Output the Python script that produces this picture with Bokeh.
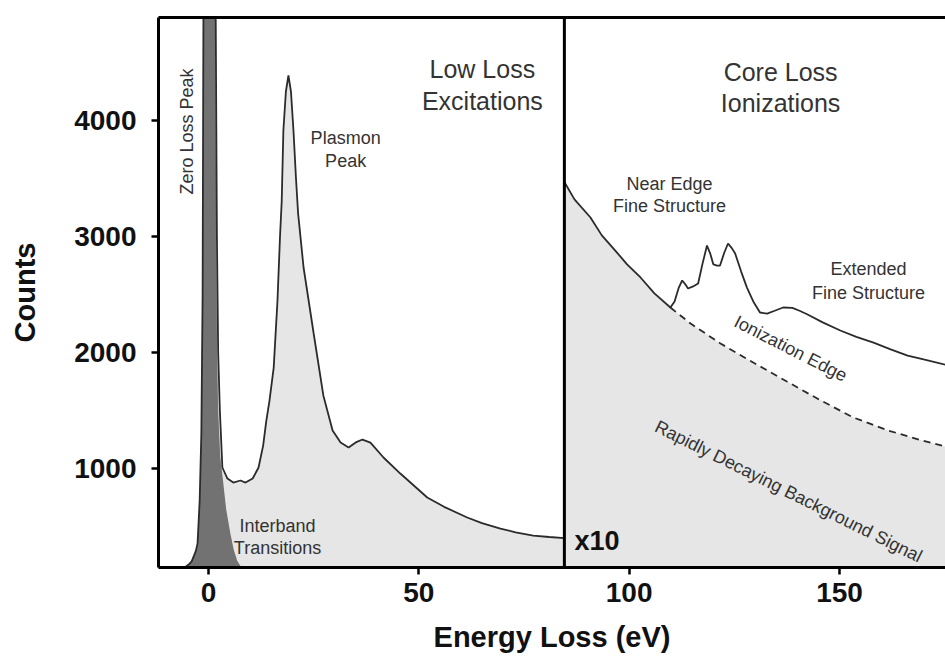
import math
from bokeh.plotting import figure
from bokeh.models import Range1d, Span, Label, LinearAxis, FixedTicker
from bokeh.embed import file_html
from bokeh.resources import INLINE

# Low-loss spectrum: total counts vs energy loss (eV)
low_energy = [-12, -6, -5.5, -4.5, -4, -3, -2.6, -2.1, -1.7, -1.4, -1.2, -1.0, 0,
              1.0, 1.7, 2.0, 2.3, 2.7, 3.3, 4.5, 5.9, 7.6, 8.8, 10.5, 11.9, 13.0,
              13.7, 14.5, 15.5, 16.4, 17.0, 17.4, 17.8, 18.4, 19.0, 19.6, 20.2,
              20.8, 21.3, 22.6, 25.0, 27.3, 29.5, 31.4, 33.3, 35.0, 36.6, 38.5,
              41.6, 45.6, 52.0, 56.0, 61.5, 65.0, 69.4, 73.0, 77.2, 81.0, 84.6]
low_counts = [147, 148, 152, 180, 200, 290, 355, 724, 1302, 2500, 5000, 8000, 12000,
              8000, 5000, 3000, 2000, 1500, 1009, 914, 879, 897, 879, 914, 1009, 1200,
              1400, 1586, 1870, 2448, 3000, 3300, 3914, 4250, 4388, 4250, 3914,
              3500, 3200, 2733, 2164, 1630, 1328, 1224, 1181, 1225, 1250, 1224,
              1095, 957, 750, 670, 578, 530, 483, 450, 422, 410, 400]

# Zero-loss peak component
zlp_energy = [-12, -6, -5.5, -4.5, -4, -3, -2.6, -2.1, -1.7, -1.4, -1.2, -1.0, 0,
              1.0, 1.6, 1.85, 2.05, 2.3, 2.8, 3.5, 4.2, 5.2, 6.0, 6.8, 7.6, 8.5]
zlp_counts = [147, 148, 152, 180, 200, 290, 355, 724, 1302, 2500, 5000, 8000, 12000,
              8000, 5000, 3000, 2000, 1500, 1100, 880, 650, 440, 300, 207, 160, 147]

# Core-loss region (x10): decaying background
bg_energy = [84.6, 87.0, 90.8, 93.5, 96.7, 99.5, 102.7, 106.0, 109.8, 114.6, 121.7,
             129.5, 137.5, 145.4, 153.3, 161.4, 169.3, 175.2]
bg_counts = [3470, 3320, 3164, 3010, 2879, 2760, 2647, 2510, 2388, 2250, 2078,
             1914, 1750, 1590, 1440, 1330, 1245, 1190]

# Core-loss region (x10): ionization edge signal above onset
edge_energy = [109.8, 110.8, 111.8, 112.6, 113.3, 114.0, 115.2, 116.4, 117.4, 118.5,
               119.3, 120.0, 120.9, 121.6, 122.6, 123.5, 124.4, 125.2, 126.6, 128.0,
               129.5, 131.1, 132.8, 134.6, 136.6, 138.8, 140.5, 142.3, 146.0, 150.2,
               154.0, 158.1, 162.0, 166.2, 170.0, 175.2]
edge_counts = [2388, 2440, 2560, 2621, 2590, 2552, 2570, 2595, 2760, 2922,
               2850, 2760, 2750, 2750, 2860, 2940, 2900, 2853, 2700, 2560,
               2440, 2345, 2336, 2360, 2388, 2385, 2360, 2330, 2260, 2190,
               2135, 2086, 2030, 1974, 1940, 1895]

x_ticks = [0, 50, 100, 150]
y_ticks = [1000, 2000, 3000, 4000]
divider = 84.6

FONT = "Liberation Sans"
LIGHT = "#e6e6e6"
DARK = "#727272"
INK = "#2b2b2b"
TXT = "#333333"

p = figure(width=945, height=659,
           x_range=Range1d(-11.886, 175.2), y_range=Range1d(147, 4888),
           output_backend="svg", toolbar_location=None,
           min_border_left=158, min_border_right=0,
           min_border_top=17, min_border_bottom=92,
           outline_line_color=None, background_fill_color="white",
           border_fill_color="white")
p.xgrid.visible = False
p.ygrid.visible = False

for ax in (p.xaxis[0], p.yaxis[0]):
    ax.axis_line_width = 3
    ax.axis_line_color = "black"
    ax.major_tick_line_width = 2.5
    ax.major_tick_line_color = "black"
    ax.major_tick_out = 7
    ax.major_tick_in = 0
    ax.minor_tick_line_color = None
    ax.major_label_text_font = FONT
    ax.major_label_text_font_style = "bold"
    ax.major_label_text_font_size = "28px"
    ax.major_label_text_color = "#111111"
    ax.axis_label_text_font = FONT
    ax.axis_label_text_font_style = "bold"
    ax.axis_label_text_font_size = "29px"
    ax.axis_label_text_color = "#111111"
p.xaxis[0].ticker = FixedTicker(ticks=x_ticks)
p.yaxis[0].ticker = FixedTicker(ticks=y_ticks)
p.xaxis[0].major_label_standoff = 8
p.yaxis[0].major_label_standoff = 15
p.xaxis[0].axis_label = "Energy Loss (eV)"
p.yaxis[0].axis_label = "Counts"
p.xaxis[0].axis_label_standoff = 16
p.yaxis[0].axis_label_standoff = 30

# top frame line
top = LinearAxis(ticker=FixedTicker(ticks=[]), axis_line_width=3,
                 axis_line_color="black", major_tick_line_color=None,
                 minor_tick_line_color=None)
p.add_layout(top, "above")

# low-loss fills and outline
p.varea(x=low_energy, y1=0, y2=low_counts, fill_color=LIGHT)
p.varea(x=zlp_energy, y1=0, y2=zlp_counts, fill_color=DARK)
p.line(low_energy, low_counts, line_color=INK, line_width=1.8)

# core-loss background fill, edge signal and extrapolated background
p.varea(x=bg_energy, y1=0, y2=bg_counts, fill_color=LIGHT)
onset = edge_energy[0]
pre_x = [e for e in bg_energy if e < onset]
pre_y = [c for e, c in zip(bg_energy, bg_counts) if e < onset]
p.line(pre_x + edge_energy, pre_y + edge_counts, line_color=INK, line_width=1.8)
post_x = [e for e in bg_energy if e >= onset]
post_y = [c for e, c in zip(bg_energy, bg_counts) if e >= onset]
p.line(post_x, post_y, line_color=INK, line_width=1.8, line_dash="7 5")

p.add_layout(Span(location=divider, dimension="height", line_color="black",
                  line_width=3))


def note(x, y, text, size="18px", angle=0.0, align="center", style="normal",
         color=TXT):
    p.add_layout(Label(x=x, y=y, text=text, angle=angle, text_align=align,
                       text_baseline="middle", text_font=FONT,
                       text_font_size=size, text_font_style=style,
                       text_color=color))


note(65.1, 4448, "Low Loss", size="25px")
note(65.1, 4172, "Excitations", size="25px")
note(136.0, 4422, "Core Loss", size="25px")
note(136.0, 4147, "Ionizations", size="25px")
note(32.6, 3853, "Plasmon")
note(32.6, 3655, "Peak")
note(-5.0, 3905, "Zero Loss Peak", angle=math.pi / 2)
note(16.4, 509, "Interband")
note(16.4, 319, "Transitions")
note(109.6, 3457, "Near Edge")
note(109.6, 3267, "Fine Structure")
note(156.9, 2724, "Extended")
note(156.9, 2509, "Fine Structure")
note(138.4, 2034, "Ionization Edge", angle=-math.radians(27))
note(137.9, 802, "Rapidly Decaying Background Signal", angle=-math.radians(26.5))
note(87.0, 379, "x10", size="27px", align="left", style="bold", color="#111111")

open("out.html", "w").write(file_html(p, INLINE))
